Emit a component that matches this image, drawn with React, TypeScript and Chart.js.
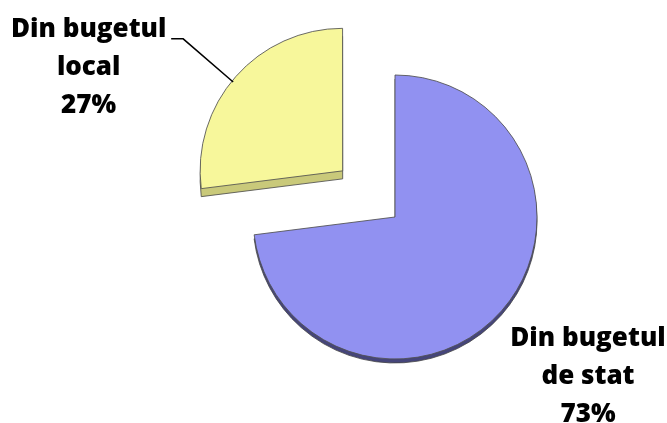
import React, { useEffect, useRef } from "react";
import { Chart, registerables } from "chart.js";

Chart.register(...registerables);

const categories = ["Din bugetul de stat", "Din bugetul local"];
const shares = [73, 27];
const labelLines = [
  ["Din bugetul", "de stat", "73%"],
  ["Din bugetul", "local", "27%"],
];
const faceColors = ["#9191f1", "#f7f79b"];
const sideColors = ["#45457a", "#c9c97a"];
const sideDepths = [4, 8];
const sliceOffsets = [0, 279];

const depthPlugin = {
  id: "depth3d",
  beforeDatasetsDraw(chart: any) {
    const ctx = chart.ctx;
    const meta = chart.getDatasetMeta(0);
    meta.data.forEach((arc: any, i: number) => {
      const o = arc.options;
      const bg = o.backgroundColor;
      const bc = o.borderColor;
      ctx.save();
      ctx.translate(0, sideDepths[i]);
      o.backgroundColor = sideColors[i];
      o.borderColor = "rgba(70,70,70,0.8)";
      arc.draw(ctx);
      o.backgroundColor = bg;
      o.borderColor = bc;
      ctx.restore();
    });
  },
};

const labelPlugin = {
  id: "sliceLabels",
  afterDraw(chart: any) {
    const ctx = chart.ctx;
    const meta = chart.getDatasetMeta(0);
    ctx.save();
    ctx.font = "800 26px 'Open Sans', Lato, sans-serif";
    ctx.fillStyle = "#000";
    ctx.textAlign = "center";
    ctx.textBaseline = "alphabetic";
    meta.data.forEach((arc: any, i: number) => {
      const mid = (arc.startAngle + arc.endAngle) / 2;
      const shift = (arc.options.offset || 0) / 4;
      const cx = arc.x + Math.cos(mid) * shift;
      const cy = arc.y + Math.sin(mid) * shift;
      const r = arc.outerRadius;
      let lx: number, ly: number;
      if (i === 1) {
        const ex = cx + Math.cos(mid) * r - 3;
        const ey = cy + Math.sin(mid) * r + 5;
        lx = cx - 254;
        ly = cy - 134;
        ctx.strokeStyle = "#000";
        ctx.lineWidth = 1.5;
        ctx.beginPath();
        ctx.moveTo(ex, ey);
        ctx.lineTo(ex - 50, cy - 132);
        ctx.lineTo(ex - 62, cy - 132);
        ctx.stroke();
      } else {
        lx = cx + 193;
        ly = cy + 129;
      }
      labelLines[i].forEach((t, k) => {
        ctx.fillText(t, lx, ly + k * 38);
      });
    });
    ctx.restore();
  },
};

export default function App() {
  const ref = useRef<HTMLCanvasElement | null>(null);
  useEffect(() => {
    if (!ref.current) return;
    const chart = new Chart(ref.current, {
      type: "pie",
      data: {
        labels: categories,
        datasets: [
          {
            data: shares,
            backgroundColor: faceColors,
            borderColor: "rgba(80,80,80,0.85)",
            borderWidth: 1,
            offset: sliceOffsets,
          },
        ],
      },
      options: {
        animation: false,
        responsive: true,
        maintainAspectRatio: false,
        radius: 142,
        layout: { padding: { left: 123, right: 0, top: 11, bottom: 0 } },
        plugins: {
          legend: { display: false },
          tooltip: { enabled: false },
          title: { display: false },
        },
      },
      plugins: [depthPlugin, labelPlugin],
    } as any);
    return () => chart.destroy();
  }, []);
  return (
    <div style={{ position: "fixed", left: 0, top: 0, width: 667, height: 423, background: "#fff" }}>
      <canvas ref={ref} />
    </div>
  );
}
